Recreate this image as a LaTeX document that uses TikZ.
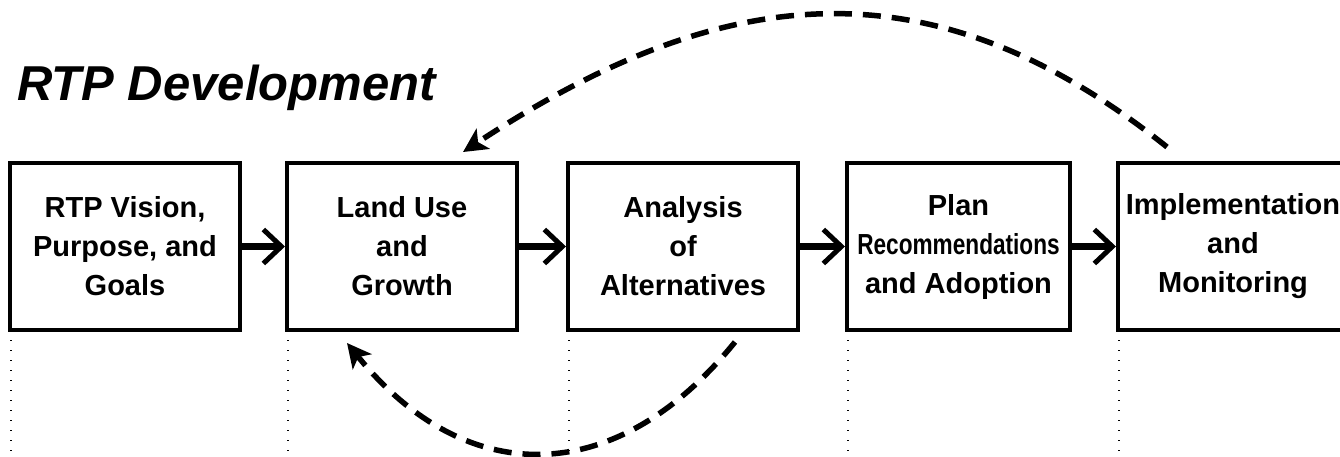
\documentclass[tikz,border=0pt]{standalone}
\usepackage{fontspec}
\setmainfont{Liberation Sans}
\usepackage{graphicx}
\usetikzlibrary{arrows.meta}
\newcommand\myboxfont{\fontsize{29}{39}\selectfont\bfseries}
\newcommand\mytitlefont{\fontsize{49}{55}\selectfont\bfseries\itshape}
\begin{document}
\begin{tikzpicture}[x=1pt,y=-1pt,
  stagebox/.style={draw, line width=4pt, minimum width=230pt, minimum height=167pt,
    inner sep=0pt, align=center, font=\myboxfont},
  flowarrow/.style={line width=7pt, -{Straight Barb[length=18pt,width=34pt,line width=5pt]}},
  loopback/.style={line width=5.5pt, dash pattern=on 18pt off 11pt,
    -{Stealth[length=24pt,width=24pt,inset=6pt]}},
  guide/.style={line width=1.3pt, dash pattern=on 1.3pt off 8.7pt}]
\useasboundingbox (0,0) rectangle (1340,456);
\node[anchor=base west, font=\mytitlefont, inner sep=0pt] (title) at (17,100) {RTP Development};
\node[stagebox] (b1) at (125,246.5) {RTP Vision,\\Purpose, and\\Goals};
\node[stagebox] (b2) at (402,246.5) {Land Use\\and\\Growth};
\node[stagebox] (b3) at (683,246.5) {Analysis\\of\\Alternatives};
\node[stagebox, minimum width=223pt] (b4) at (958.5,246.5) {Plan\\\scalebox{0.78}[1]{Recommendations}\\and Adoption};
\node[stagebox] (b5) at (1233,246.5) {Implementation\\and\\Monitoring};
\draw[flowarrow] (b1) -- (b2);
\draw[flowarrow] (b2) -- (b3);
\draw[flowarrow] (b3) -- (b4);
\draw[flowarrow] (b4) -- (b5);
\coordinate (topstart) at (1167,147);
\coordinate (topend) at (463,152);
\coordinate (botstart) at (735,342);
\coordinate (botend) at (347,343);
\draw[loopback] (topstart) .. controls (929,-43) and (720,-17) .. (topend);
\draw[loopback] (botstart) .. controls (616,489) and (466,490) .. (botend);
\foreach \b in {b1,b2,b3,b4,b5}{
  \draw[guide] ([shift={(3pt,-8pt)}]\b.south west) -- ++(0,-130pt);
}
\end{tikzpicture}
\end{document}
